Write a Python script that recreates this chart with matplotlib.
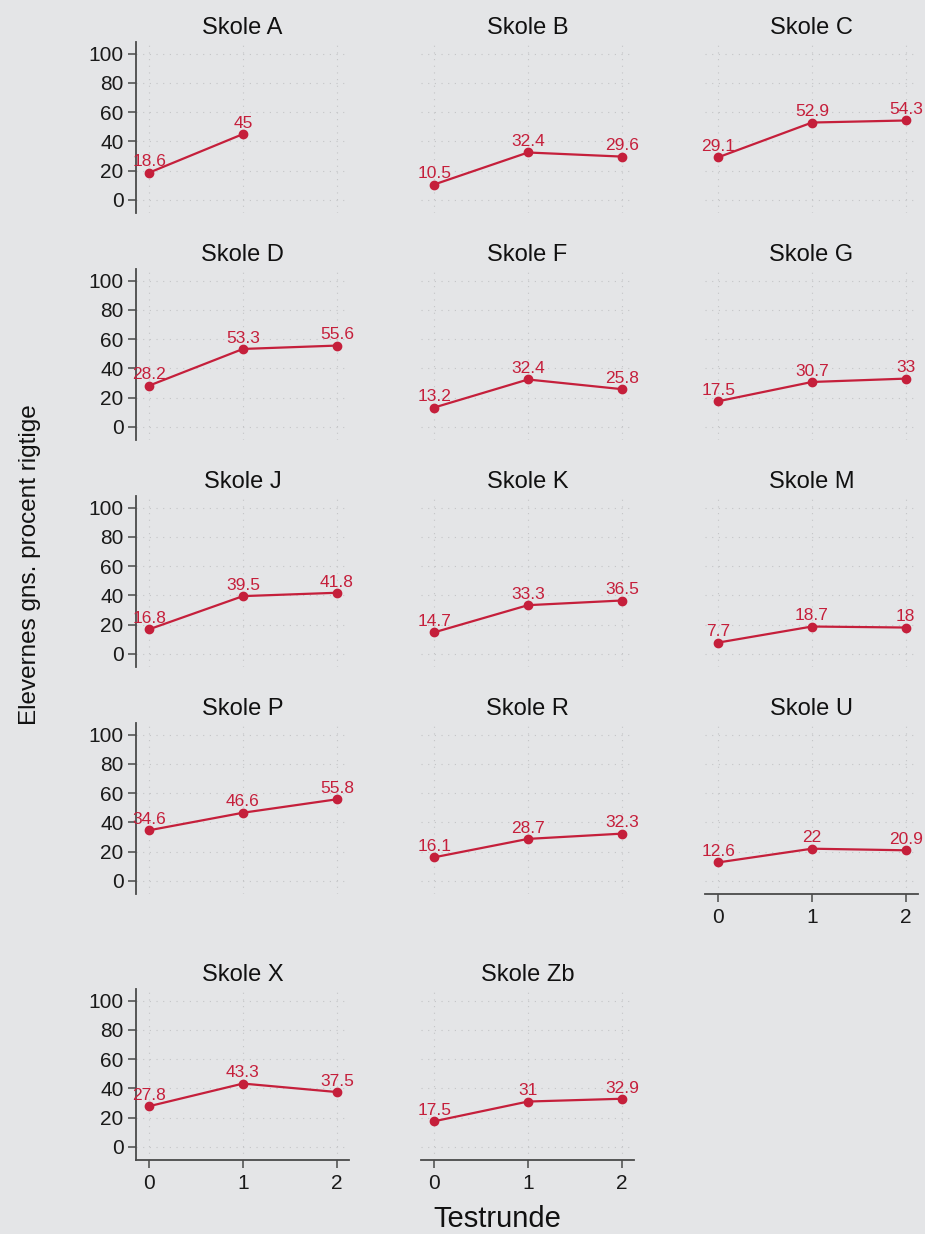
import matplotlib
matplotlib.use("Agg")
import matplotlib.pyplot as plt

plt.rcParams['font.family'] = ['Liberation Sans', 'DejaVu Sans']

# Average percent correct per school across test rounds
schools = ["Skole A", "Skole B", "Skole C", "Skole D", "Skole F", "Skole G",
           "Skole J", "Skole K", "Skole M", "Skole P", "Skole R", "Skole U",
           "Skole X", "Skole Zb"]
skole_a = [18.6, 45]
skole_b = [10.5, 32.4, 29.6]
skole_c = [29.1, 52.9, 54.3]
skole_d = [28.2, 53.3, 55.6]
skole_f = [13.2, 32.4, 25.8]
skole_g = [17.5, 30.7, 33]
skole_j = [16.8, 39.5, 41.8]
skole_k = [14.7, 33.3, 36.5]
skole_m = [7.7, 18.7, 18]
skole_p = [34.6, 46.6, 55.8]
skole_r = [16.1, 28.7, 32.3]
skole_u = [12.6, 22, 20.9]
skole_x = [27.8, 43.3, 37.5]
skole_zb = [17.5, 31, 32.9]
series = [skole_a, skole_b, skole_c, skole_d, skole_f, skole_g, skole_j,
          skole_k, skole_m, skole_p, skole_r, skole_u, skole_x, skole_zb]
rounds = [0, 1, 2]
y_ticks = [0, 20, 40, 60, 80, 100]

BG = "#e4e5e7"
RED = "#c51f3b"
AXC = "#4a4a4a"

W, H = 925, 1234
fig = plt.figure(figsize=(W / 100, H / 100), dpi=100, facecolor=BG)

col_left = [136, 421, 705]
row_top = [42, 269, 496, 723, 989]
ax_w, ax_h = 213, 171
ncols = 3
n = len(schools)

for i, (name, vals) in enumerate(zip(schools, series)):
    r, c = divmod(i, ncols)
    left = col_left[c] / W
    bottom = 1 - (row_top[r] + ax_h) / H
    ax = fig.add_axes([left, bottom, ax_w / W, ax_h / H])
    ax.set_facecolor(BG)
    ax.set_xlim(-0.14, 2.13)
    ax.set_ylim(-9, 108)
    ax.set_xticks(rounds)
    ax.set_yticks(y_ticks)
    ax.grid(True, color="#c4c5c7", linestyle=(0, (1, 5)), linewidth=0.8)
    ax.set_axisbelow(True)
    for s in ["top", "right"]:
        ax.spines[s].set_visible(False)

    show_y = c == 0
    show_x = (i + ncols) >= n
    ax.spines["left"].set_visible(show_y)
    ax.spines["bottom"].set_visible(show_x)
    for s in ["left", "bottom"]:
        ax.spines[s].set_color(AXC)
        ax.spines[s].set_linewidth(1.3)
    ax.tick_params(axis="y", left=show_y, labelleft=show_y, length=6,
                   width=1.1, color=AXC, labelsize=15, pad=3,
                   labelcolor="#1a1a1a")
    ax.tick_params(axis="x", bottom=show_x, labelbottom=show_x, length=6,
                   width=1.1, color=AXC, labelsize=15, pad=4,
                   labelcolor="#1a1a1a")

    xs = rounds[:len(vals)]
    ax.plot(xs, vals, color=RED, linewidth=1.6, marker="o", markersize=6,
            zorder=3)
    for x, v in zip(xs, vals):
        ax.annotate(f"{v:g}", (x, v), xytext=(0, 4.5),
                    textcoords="offset points", ha="center", va="baseline",
                    color=RED, fontsize=12.5, zorder=4)
    ax.set_title(name, fontsize=17, pad=6, color="#111111")

fig.text(30 / W, 1 - 565 / H, "Elevernes gns. procent rigtige",
         rotation=90, ha="center", va="center", fontsize=17.5,
         color="#111111")
fig.text(497 / W, 1 - 1219 / H, "Testrunde", ha="center", va="center",
         fontsize=21, color="#111111")

fig.savefig("out.png", dpi=100, facecolor=BG)
